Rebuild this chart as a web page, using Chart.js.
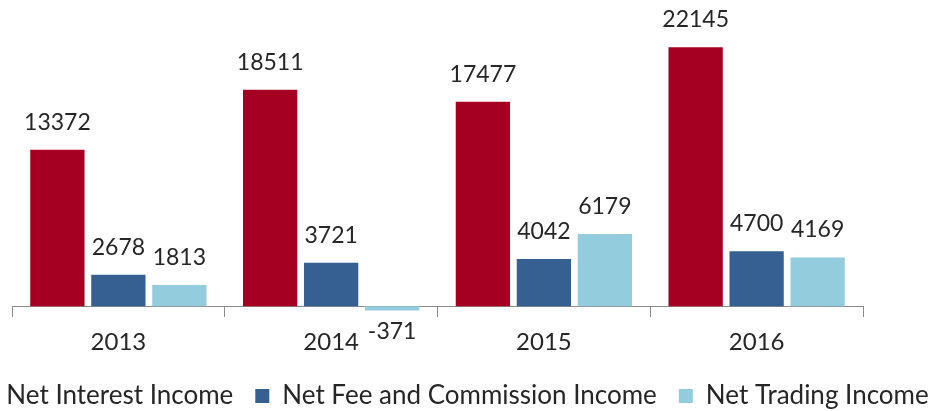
<!DOCTYPE html>
<html>
<head>
<meta charset="utf-8">
<script src="https://cdn.jsdelivr.net/npm/chart.js@4"></script>
<style>
html, body { margin: 0; padding: 0; background: #fff; overflow: hidden; width: 928px; height: 411px; }
#wrap { position: absolute; left: -66px; top: 0; width: 1040px; height: 423px; }
</style>
</head>
<body>
<div id="wrap"><canvas id="chart" width="1040" height="423"></canvas></div>
<script>
const years = ['2013', '2014', '2015', '2016'];
const interestIncome = [13372, 18511, 17477, 22145];
const feeIncome = [2678, 3721, 4042, 4700];
const tradingIncome = [1813, -371, 6179, 4169];

const textColor = '#262626';
const fontName = 'Lato';

// value above (or below, for negatives) each bar
const valueLabels = {
  id: 'valueLabels',
  afterDatasetsDraw(chart) {
    const ctx = chart.ctx;
    ctx.save();
    ctx.font = '23px ' + fontName;
    ctx.fillStyle = textColor;
    ctx.textAlign = 'center';
    ctx.textBaseline = 'alphabetic';
    chart.data.datasets.forEach((ds, i) => {
      chart.getDatasetMeta(i).data.forEach((bar, j) => {
        const v = ds.data[j];
        if (v >= 0) ctx.fillText(String(v), bar.x, bar.y - 20);
        else ctx.fillText(String(v), bar.x, bar.y + 29);
      });
    });
    ctx.restore();
  }
};

// empty axes that only hold space around the bars
const spacer = (side, size) => ({
  display: true,
  position: side,
  grid: { display: false },
  border: { display: false },
  ticks: { display: false },
  afterFit(scale) {
    if (side === 'bottom') scale.height = size;
    else scale.width = size;
  }
});

new Chart(document.getElementById('chart'), {
  type: 'bar',
  data: {
    labels: years,
    datasets: [
      { label: 'Net Interest Income', data: interestIncome, backgroundColor: '#A50021' },
      { label: 'Net Fee and Commission Income', data: feeIncome, backgroundColor: '#376092' },
      { label: 'Net Trading Income', data: tradingIncome, backgroundColor: '#93CDDD' }
    ]
  },
  options: {
    responsive: false,
    animation: false,
    categoryPercentage: 0.86,
    barPercentage: 0.89,
    layout: { padding: { left: 0, right: 0, top: 0, bottom: 4 } },
    plugins: {
      legend: {
        position: 'bottom',
        labels: {
          color: textColor,
          font: { family: fontName, size: 26 },
          boxWidth: 14,
          boxHeight: 14,
          padding: 22
        }
      },
      tooltip: { enabled: false }
    },
    scales: {
      x: {
        position: { y: 0 },
        grid: { drawOnChartArea: false, offset: true, tickLength: 10, color: '#8c8c8c' },
        border: { color: '#8c8c8c' },
        ticks: { color: textColor, font: { family: fontName, size: 24 }, padding: 12 }
      },
      xPad: Object.assign(spacer('bottom', 49), { type: 'category' }),
      y: Object.assign(spacer('left', 78), { min: -500, max: 26180 }),
      yRight: spacer('right', 111)
    }
  },
  plugins: [valueLabels]
});
</script>
</body>
</html>
